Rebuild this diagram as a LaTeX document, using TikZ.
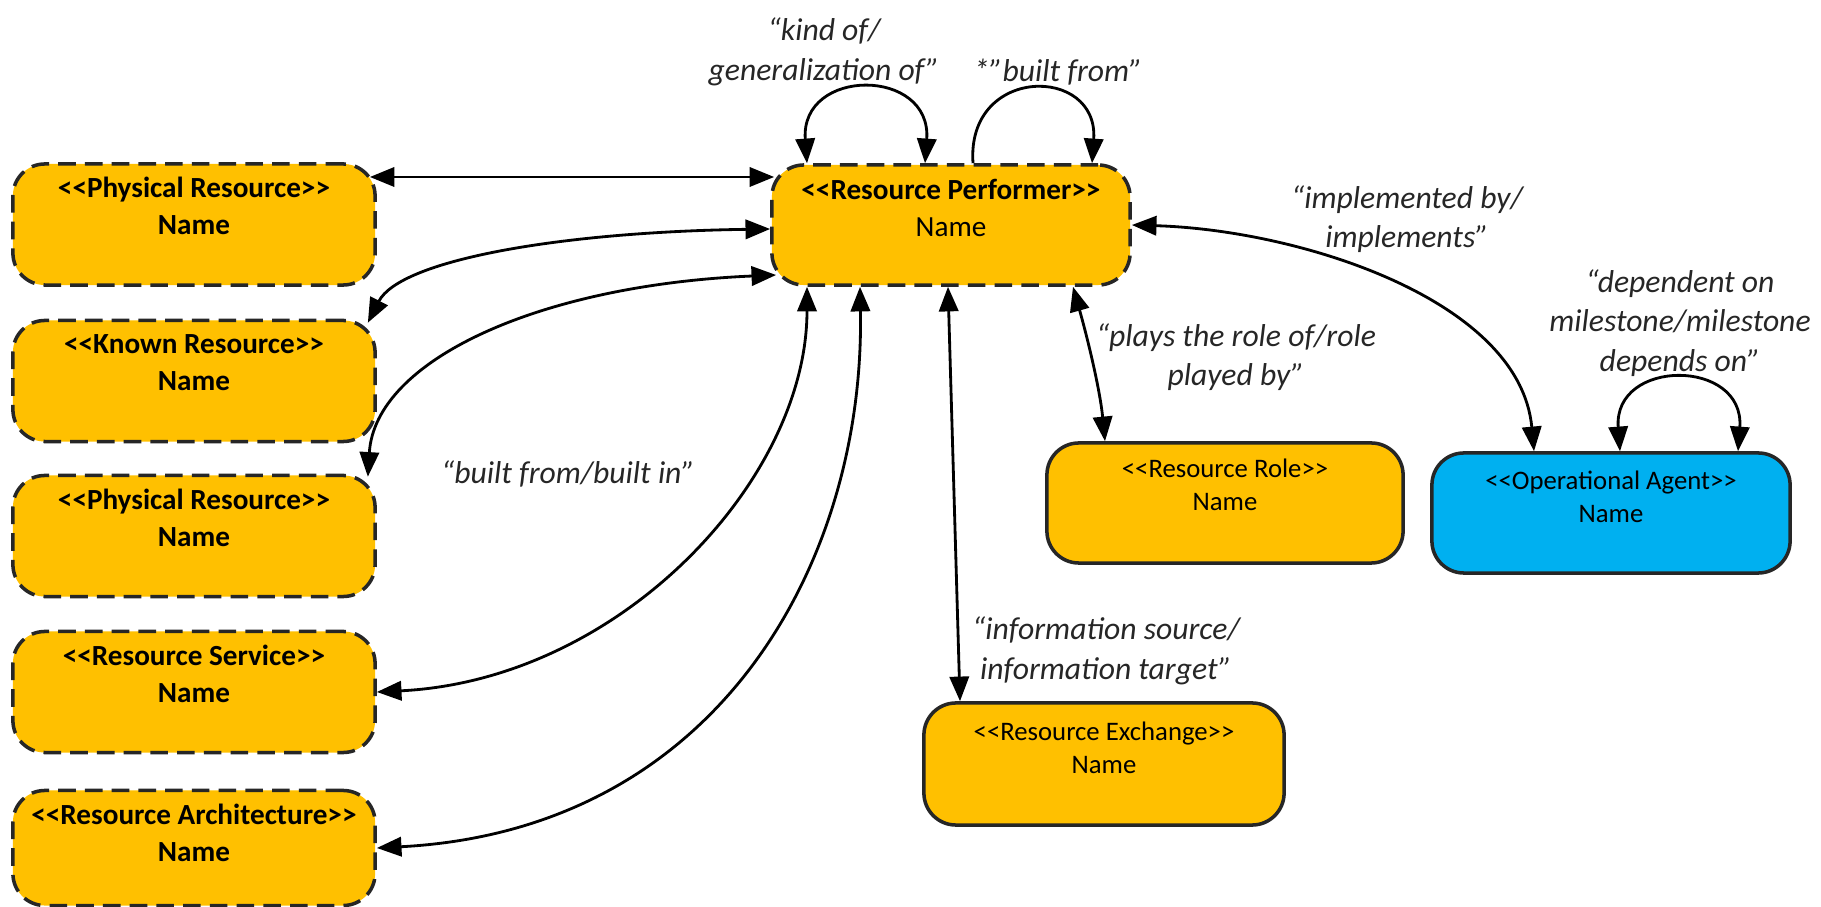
\documentclass[tikz,border=0pt]{standalone}
\usepackage{fontspec}
\setmainfont{Carlito}[Ligatures=TeXOff]
\usetikzlibrary{arrows.meta,calc}
\definecolor{gold}{HTML}{FFC000}
\definecolor{agentblue}{HTML}{00B0F0}
\begin{document}
\begin{tikzpicture}[x=0.01cm,y=-0.01cm,
  >={Triangle[length=7pt,width=5.5pt]},
  box/.style={draw=black!85, line width=1pt, fill=gold, rounded corners=0.32cm, inner sep=0pt},
  dbox/.style={box, dash pattern=on 5pt off 2.6pt},
  wide/.style={minimum width=3.62cm, minimum height=1.21cm},
  bigtxt/.style={font=\fontsize{8.3}{10.5}\selectfont, align=center, inner sep=0pt},
  boldtxt/.style={font=\fontsize{8.3}{10.5}\selectfont\bfseries, align=center, inner sep=0pt},
  smalltxt/.style={font=\fontsize{7.6}{9.4}\selectfont, align=center, inner sep=0pt},
  lbl/.style={font=\fontsize{9}{11.2}\selectfont\itshape, align=center, inner sep=0pt, text=black!85},
  conn/.style={line width=0.8pt, draw=black}
]
\useasboundingbox (0,0) rectangle (1821,907);

% left column of resources
\node[dbox, wide] (pr1) at (194,224.5) {};
\node[dbox, wide] (kr)  at (194,381) {};
\node[dbox, wide] (pr2) at (194,536) {};
\node[dbox, wide] (rs)  at (194,692) {};
\node[dbox, minimum width=3.62cm, minimum height=1.15cm] (ra) at (194,848) {};
\node[boldtxt] (pr1t) at ($(pr1.north)+(0,44)$) {<<Physical Resource>>\\Name};
\node[boldtxt] (krt)  at ($(kr.north)+(0,44)$)  {<<Known Resource>>\\Name};
\node[boldtxt] (pr2t) at ($(pr2.north)+(0,44)$) {<<Physical Resource>>\\Name};
\node[boldtxt] (rst)  at ($(rs.north)+(0,44)$)  {<<Resource Service>>\\Name};
\node[boldtxt] (rat)  at ($(ra.north)+(0,44)$)  {<<Resource Architecture>>\\Name};

% central performer
\node[dbox, minimum width=3.58cm, minimum height=1.2cm] (rp) at (951,225) {};
\node[bigtxt] (rpt) at ($(rp.north)+(0,44.5)$) {{\bfseries <<Resource Performer>>}\\Name};

% right-hand elements
\node[box, minimum width=3.56cm, minimum height=1.2cm] (rr) at (1225,503) {};
\node[smalltxt] (rrt) at ($(rr.north)+(0,43.5)$) {<<Resource Role>>\\Name};
\node[box, fill=agentblue, minimum width=3.58cm, minimum height=1.2cm] (oa) at (1611,513) {};
\node[smalltxt] (oat) at ($(oa.north)+(0,46)$) {<<Operational Agent>>\\Name};
\node[box, minimum width=3.6cm, minimum height=1.22cm] (re) at (1104,764) {};
\node[smalltxt] (ret) at ($(re.north)+(0,47)$) {<<Resource Exchange>>\\Name};

% connectors to the left column
\draw[conn,<->] ($(pr1.east |- 0,177)+(-7,0)$) -- ($(rp.west |- 0,177)+(4,0)$);
\draw[conn,<->] (rp.west |- 0,229) .. controls (560,232) and (400,260) .. ($(kr.north east)+(-9,4)$);
\draw[conn,<->] ($(rp.west |- 0,275)+(6,0)$) .. controls (540,285) and (375,360) .. ($(pr2.north east)+(-9,3)$);
\draw[conn,<->] (rp.south -| 807,0) .. controls (807,480) and (620,680) .. (rs.east |- 0,692);
\draw[conn,<->] (rp.south -| 860,0) .. controls (865,560) and (720,830) .. (ra.east |- 0,848);

% connectors to the right-hand elements
\draw[conn,<->] (rp.south -| 948,0) -- (re.north -| 960,0);
\draw[conn,<->] (rp.south -| 1073,0) .. controls (1088,340) and (1100,390) .. (rr.north -| 1105,0);
\draw[conn,<->] (rp.east |- 0,225) .. controls (1300,230) and (1520,300) .. (oa.north -| 1534,0);

% self loops
\draw[conn,<->] (rp.north -| 807,0) .. controls (800,67) and (932,67) .. (rp.north -| 925,0);
\draw[conn,->]  (rp.north -| 973,0) .. controls (966,65) and (1099,65) .. (rp.north -| 1092,0);
\draw[conn,<->] (oa.north -| 1620,0) .. controls (1613,358) and (1745,358) .. (oa.north -| 1738,0);

% relation labels
\node[lbl] (lkind)  at (824,52)   {“kind of/\\generalization of”};
\node[lbl] (lbuilt) at (1058,72)  {*”built from”};
\node[lbl] (limpl)  at (1407,219) {“implemented by/\\implements”};
\node[lbl] (lrole)  at (1236,357) {“plays the role of/role\\played by”};
\node[lbl] (ldep)   at (1680,323) {“dependent on\\milestone/milestone\\depends on”};
\node[lbl] (lbfbi)  at (568,474)  {“built from/built in”};
\node[lbl] (linfo)  at (1106,651) {“information source/\\information target”};
\end{tikzpicture}
\end{document}
